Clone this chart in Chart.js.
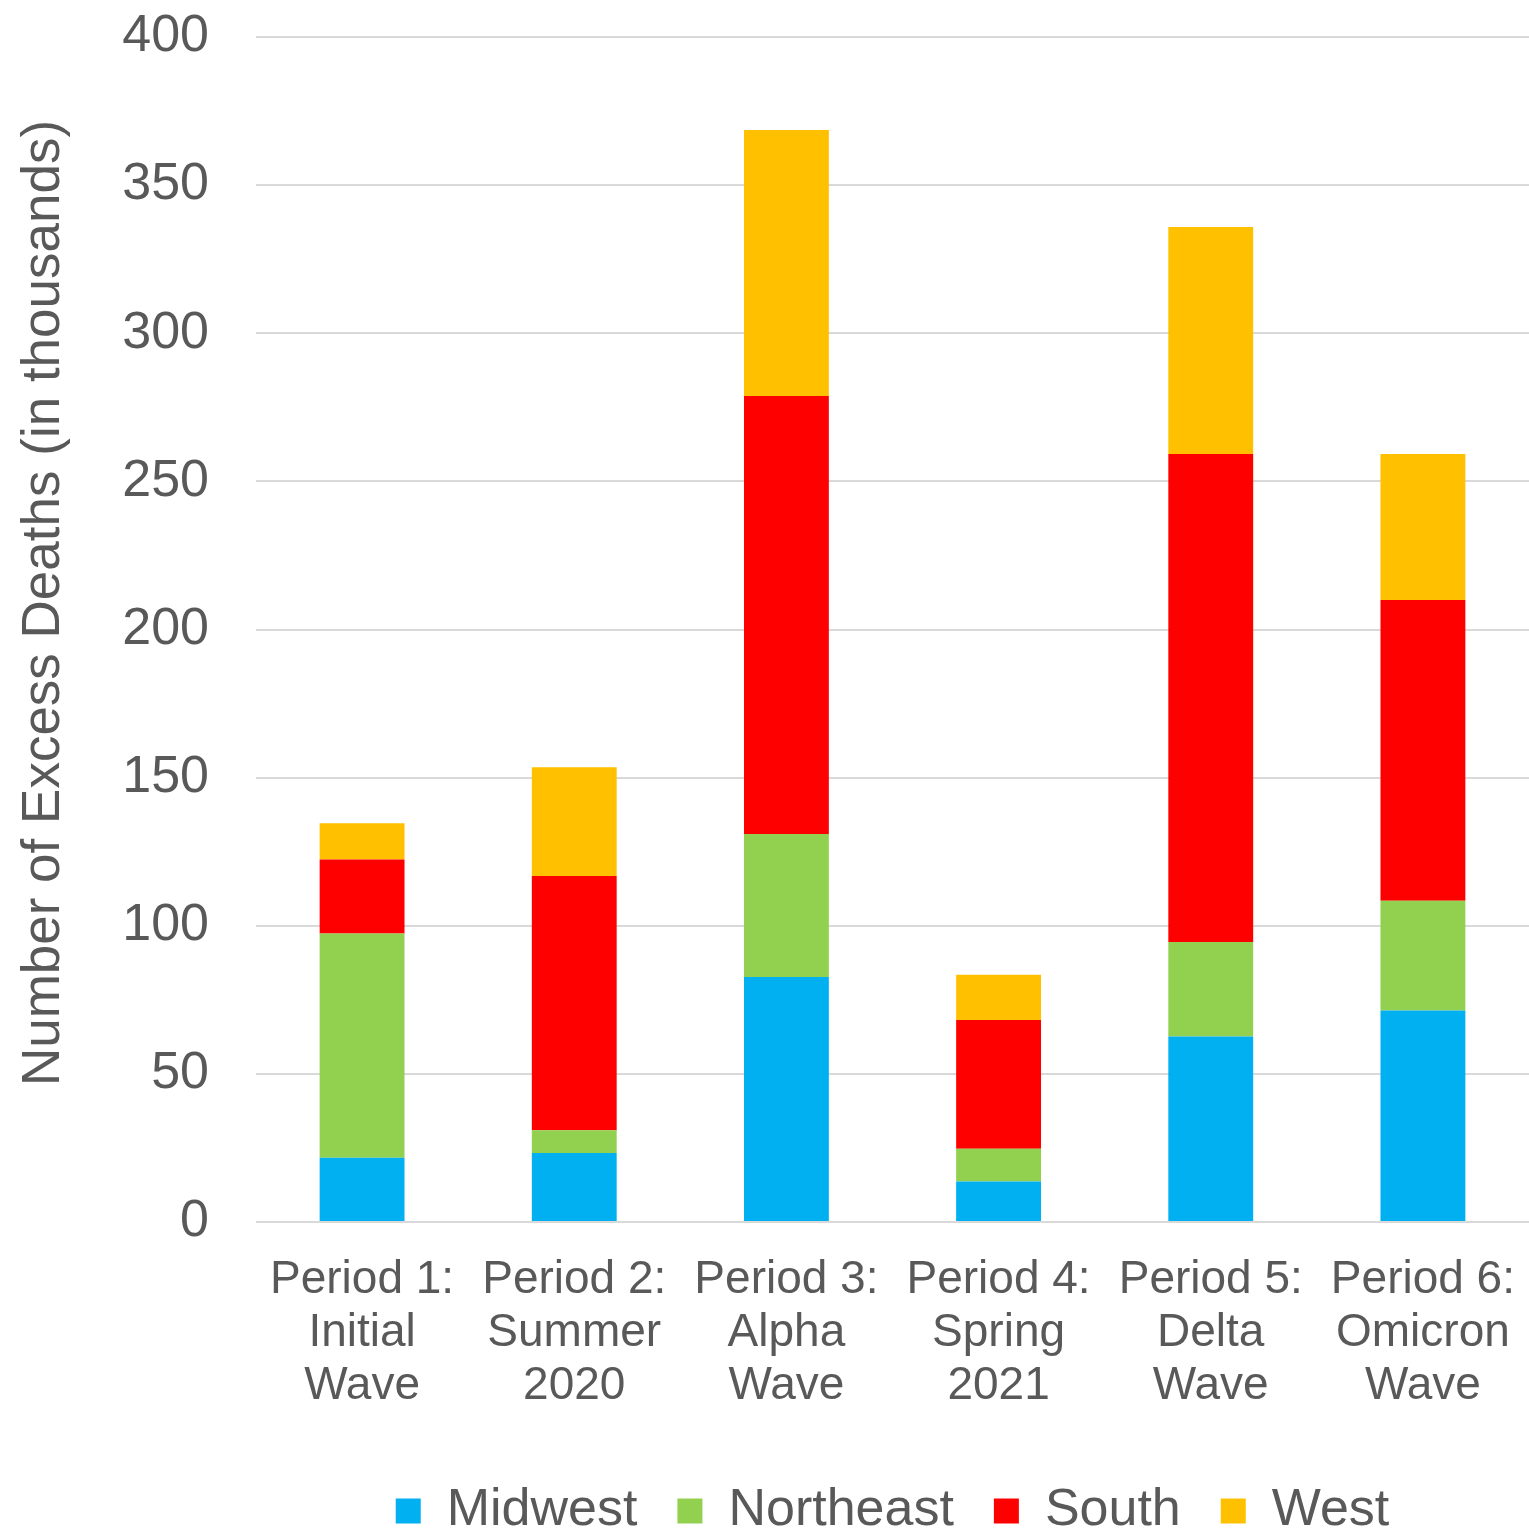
<!DOCTYPE html>
<html>
<head>
<meta charset="utf-8">
<script src="https://cdn.jsdelivr.net/npm/chart.js@4/dist/chart.umd.min.js"></script>
<style>
  html, body { margin: 0; padding: 0; background: #ffffff; }
  #wrap { width: 1529px; height: 1535px; }
</style>
</head>
<body>
<div id="wrap"><canvas id="myChart" width="1529" height="1535"></canvas></div>
<script>
// Categories (multi-line labels)
const periods = [
    ['Period 1:', 'Initial', 'Wave'],
    ['Period 2:', 'Summer', '2020'],
    ['Period 3:', 'Alpha', 'Wave'],
    ['Period 4:', 'Spring', '2021'],
    ['Period 5:', 'Delta', 'Wave'],
    ['Period 6:', 'Omicron', 'Wave']
];

// Excess deaths by region (thousands)
const midwest   = [21.7, 23.3, 82.7, 13.7, 62.6, 71.4];
const northeast = [75.7, 7.7, 48.3, 11.0, 31.9, 37.0];
const south     = [25.0, 85.8, 147.8, 43.5, 164.7, 101.6];
const west      = [12.2, 36.7, 89.8, 15.3, 76.7, 49.2];

const textColor = '#595959';
const fontFamily = '"Liberation Sans", Arial, sans-serif';

function makeDataset(label, data, color) {
    return {
        label: label,
        data: data,
        backgroundColor: color,
        borderWidth: 0,
        categoryPercentage: 1.0,
        barPercentage: 0.4
    };
}

const chartConfig = {
    type: 'bar',
    data: {
        labels: periods,
        datasets: [
            makeDataset('Midwest', midwest, '#00B0F0'),
            makeDataset('Northeast', northeast, '#92D050'),
            makeDataset('South', south, '#FF0000'),
            makeDataset('West', west, '#FFC000')
        ]
    },
    options: {
        responsive: false,
        animation: false,
        layout: { padding: { top: 37, right: 0, left: 0, bottom: -12 } },
        plugins: {
            tooltip: { enabled: false },
            legend: {
                position: 'bottom',
                fullSize: false,
                labels: {
                    color: textColor,
                    font: { family: fontFamily, size: 52 },
                    boxWidth: 25,
                    boxHeight: 25,
                    padding: 40
                }
            }
        },
        scales: {
            x: {
                stacked: true,
                // invisible tick marks give the label gap without extra side padding
                grid: { display: false, drawTicks: true, tickLength: 32 },
                border: { display: false },
                ticks: {
                    color: textColor,
                    font: { family: fontFamily, size: 46, lineHeight: 1.15 },
                    padding: 0,
                    maxRotation: 0,
                    autoSkip: false
                },
                afterFit: function (scale) { scale.height = 223; }
            },
            y: {
                stacked: true,
                min: 0,
                max: 400,
                grid: {
                    color: '#d9d9d9',
                    lineWidth: 2,
                    drawTicks: true,
                    tickLength: 47,
                    tickColor: 'rgba(0,0,0,0)'
                },
                border: { display: false },
                ticks: {
                    stepSize: 50,
                    color: textColor,
                    font: { family: fontFamily, size: 52 },
                    padding: 0
                },
                title: {
                    display: true,
                    // two en spaces nudge the title towards the top, as in the original
                    text: '\u2002\u2002Number of Excess Deaths (in thousands)',
                    color: textColor,
                    font: { family: fontFamily, size: 53 },
                    padding: { top: 13, bottom: 0 }
                },
                afterFit: function (scale) { scale.width = 256; }
            }
        }
    }
};

const ctx = document.getElementById('myChart').getContext('2d');
new Chart(ctx, chartConfig);
</script>
</body>
</html>
